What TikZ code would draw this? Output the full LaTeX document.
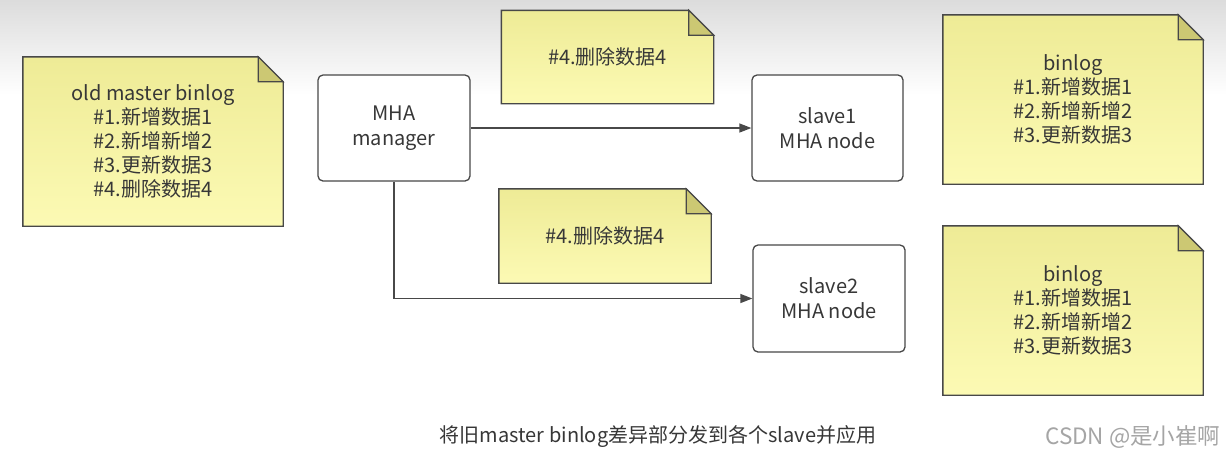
\documentclass[tikz,border=0pt]{standalone}
\usepackage{fontspec}
\setmainfont{Noto Sans CJK SC}
\usetikzlibrary{arrows.meta,backgrounds}
\definecolor{txt}{RGB}{55,55,55}
\definecolor{edgec}{RGB}{72,72,72}
\definecolor{notetop}{RGB}{238,235,150}
\definecolor{notebot}{RGB}{252,250,180}
\definecolor{foldc}{RGB}{204,200,115}
\definecolor{bgtop}{RGB}{220,220,220}
\definecolor{wm}{RGB}{165,165,165}
\pgfdeclarelayer{bg}
\pgfsetlayers{bg,background,main}
\newcommand{\dogear}[1]{%
  \begin{pgfonlayer}{background}
    \path[top color=notetop,bottom color=notebot,draw=edgec,line width=1.4pt,line join=miter]
      (#1.north west) -- ([xshift=-25pt]#1.north east) -- ([yshift=-25pt]#1.north east)
      -- (#1.south east) -- (#1.south west) -- cycle;
    \path[fill=foldc,draw=edgec,line width=1.2pt,line join=miter]
      ([xshift=-25pt]#1.north east) -- ([xshift=-25pt,yshift=-25pt]#1.north east)
      -- ([yshift=-25pt]#1.north east) -- cycle;
  \end{pgfonlayer}}
\begin{document}
\begin{tikzpicture}[x=1pt,y=-1pt,
  notebox/.style={minimum width=260pt,minimum height=169pt,inner sep=0pt,align=center,
    font=\fontsize{20pt}{24pt}\selectfont,text=txt},
  smallnote/.style={minimum width=212pt,minimum height=93pt,inner sep=0pt,align=center,
    font=\fontsize{20pt}{24pt}\selectfont,text=txt},
  mhabox/.style={draw=edgec,line width=1.3pt,rounded corners=5pt,fill=white,align=center,
    inner sep=0pt,minimum width=152pt,minimum height=106pt,
    font=\fontsize{20pt}{25pt}\selectfont,text=txt},
  link/.style={draw=edgec,line width=1.3pt,-{Triangle[length=12pt,width=9pt]}},
  ]
\useasboundingbox (0,0) rectangle (1226,459);
\begin{pgfonlayer}{bg}
  \fill[white] (0,0) rectangle (1226,459);
  \shade[top color=bgtop,bottom color=white] (0,0) rectangle (1226,95);
\end{pgfonlayer}

\node[notebox] (old) at (153,141.5) {old master binlog\\\#1.新增数据1\\\#2.新增新增2\\\#3.更新数据3\\\#4.删除数据4};
\dogear{old}

\node[mhabox] (mha) at (394,128) {MHA\\manager};

\node[smallnote] (del1) at (607.5,57) {\#4.删除数据4};
\dogear{del1}
\node[smallnote,minimum height=94pt] (del2) at (605,236) {\#4.删除数据4};
\dogear{del2}

\node[mhabox,minimum width=151pt] (s1) at (827.5,128) {slave1\\MHA node};
\node[mhabox,minimum height=107pt] (s2) at (829,298.5) {slave2\\MHA node};

\node[notebox] (b1) at (1073,99.5) {binlog\\\#1.新增数据1\\\#2.新增新增2\\\#3.更新数据3};
\dogear{b1}
\node[notebox] (b2) at (1073,310.5) {binlog\\\#1.新增数据1\\\#2.新增新增2\\\#3.更新数据3};
\dogear{b2}

\draw[link] (mha.east) -- (s1.west);
\draw[link] (mha.south) |- (s2.west);

\node[text=txt,font=\fontsize{20pt}{24pt}\selectfont] (cap) at (658,437) {将旧master binlog差异部分发到各个slave并应用};
\node[text=wm,font=\fontsize{22.5pt}{26pt}\selectfont,anchor=east] (wmk) at (1224,437) {CSDN @是小崔啊};
\end{tikzpicture}
\end{document}
